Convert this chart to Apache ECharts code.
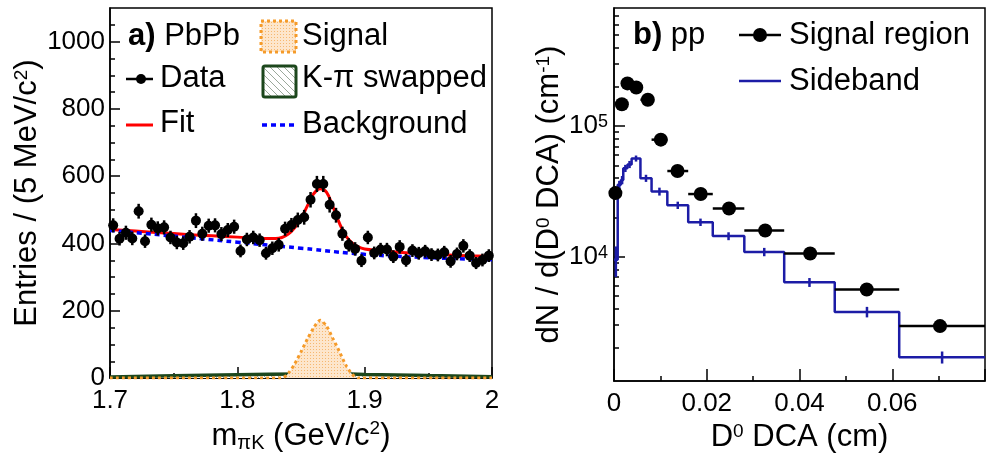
<!DOCTYPE html>
<html>
<head>
<meta charset="utf-8">
<script src="https://cdn.jsdelivr.net/npm/echarts@6/dist/echarts.min.js"></script>
<style>html,body{margin:0;padding:0;background:#fff}#chart{width:988px;height:458px}</style>
</head>
<body>
<div id="chart"></div>
<script>
// a) PbPb invariant mass, 5 MeV bins from 1.7 to 2.0 GeV/c2
const massBinStart = 1.7;
const massBinWidth = 0.005;
const massCounts = [454, 414, 432, 415, 496, 407, 456, 445, 448, 418, 403, 401, 420, 468, 429, 453, 454, 428, 440, 450,
  378, 412, 418, 410, 371, 386, 396, 444, 455, 470, 478, 530, 577, 577, 515, 484, 429, 396, 384, 349,
  418, 372, 382, 382, 361, 390, 350, 379, 371, 377, 367, 366, 374, 347, 369, 393, 364, 342, 351, 364];
const massErr = [21, 20, 21, 20, 22, 20, 21, 21, 21, 20, 20, 20, 20, 22, 21, 21, 21, 21, 21, 21,
  19, 20, 20, 20, 19, 20, 20, 21, 21, 22, 22, 23, 24, 24, 23, 22, 21, 20, 20, 19,
  20, 19, 20, 20, 19, 20, 19, 19, 19, 19, 19, 19, 19, 19, 19, 20, 19, 18, 19, 19];
// fit, background, signal and swapped curves
const fitX = [1.7, 1.72, 1.74, 1.76, 1.78, 1.8, 1.82, 1.83, 1.835, 1.84, 1.845, 1.85, 1.855, 1.86, 1.865, 1.87, 1.875, 1.88, 1.885, 1.89, 1.895, 1.9, 1.92, 1.94, 1.96, 1.98, 2.0];
const fitY = [442, 437, 432, 427, 423, 419, 415, 415, 418, 428, 447, 474, 512, 548, 563, 553, 510, 462, 424, 402, 390, 384, 376, 371, 367, 364, 362];
const bkgX = [1.7, 1.75, 1.8, 1.85, 1.9, 1.95, 2.0];
const bkgY = [439, 422, 404, 386, 368, 358, 352];
const sigX = [1.7, 1.835, 1.84, 1.845, 1.85, 1.855, 1.86, 1.865, 1.87, 1.875, 1.88, 1.885, 1.89, 1.895, 2.0];
const sigY = [0, 0, 14, 42, 78, 116, 150, 172, 155, 118, 80, 40, 12, 0, 0];
const swapX = [1.7, 1.75, 1.8, 1.85, 1.875, 1.9, 1.95, 2.0];
const swapY = [3, 7, 10, 12.5, 13, 11, 8, 4];
const massYTicks = [0, 200, 400, 600, 800, 1000];
const massYMinor = [50, 100, 150, 250, 300, 350, 450, 500, 550, 650, 700, 750, 850, 900, 950, 1050];

// b) pp D0 DCA
const dcaX = [0.0003, 0.0017, 0.0029, 0.0048, 0.0073, 0.0101, 0.0137, 0.0187, 0.0248, 0.0326, 0.0423, 0.0545, 0.0703];
const dcaLo = [0, 0.0008, 0.0025, 0.0038, 0.0057, 0.0081, 0.0115, 0.016, 0.0213, 0.0281, 0.0367, 0.0476, 0.0615];
const dcaHi = [0.0008, 0.0025, 0.0035, 0.0057, 0.0081, 0.0115, 0.016, 0.0213, 0.0281, 0.0367, 0.0476, 0.0615, 0.08];
const signalRegion = [30700, 147000, 212000, 197000, 159000, 78700, 45300, 30200, 23400, 15900, 10600, 5620, 2950];
const sbEdges = [0, 0.0008, 0.0015, 0.002, 0.0029, 0.0038, 0.0057, 0.0081, 0.0115, 0.016, 0.0213, 0.0281, 0.0367, 0.0476, 0.0615, 0.08];
const sideband = [9500, 35500, 38700, 47500, 50900, 56500, 39900, 31600, 24800, 18400, 14400, 10900, 6380, 3790, 1706];
const sidebandErr = [2500, 2600, 2800, 3000, 3200, 3000, 2500, 2200, 1600, 1200, 1000, 800, 500, 350, 180];
const dcaYTicks = [10000, 100000];
const dcaYMinor = [2000, 3000, 4000, 5000, 6000, 7000, 8000, 9000, 20000, 30000, 40000, 50000, 60000, 70000, 80000, 90000,
  200000, 300000, 400000, 500000, 600000, 700000];

const FONT = "'Liberation Sans', Arial, Helvetica, sans-serif";
const chart = echarts.init(document.getElementById('chart'));

// fill patterns (hatch for K-pi swapped, dots for signal)
function hatch() {
  const c = document.createElement('canvas');
  c.width = 7; c.height = 7;
  const g = c.getContext('2d');
  g.fillStyle = '#fff'; g.fillRect(0, 0, 7, 7);
  g.strokeStyle = '#9aa89a'; g.lineWidth = 1;
  g.beginPath(); g.moveTo(-1, -1); g.lineTo(8, 8); g.stroke();
  return { image: c, repeat: 'repeat' };
}
function dots() {
  const c = document.createElement('canvas');
  c.width = 3; c.height = 3;
  const g = c.getContext('2d');
  g.fillStyle = '#fde6cc'; g.fillRect(0, 0, 3, 3);
  g.fillStyle = '#f6b870'; g.fillRect(1, 1, 1, 1);
  return { image: c, repeat: 'repeat' };
}

function errRender(horizontal, color, width) {
  return function (params, api) {
    let p1, p2;
    if (horizontal) {
      p1 = api.coord([api.value(0), api.value(2)]);
      p2 = api.coord([api.value(1), api.value(2)]);
    } else {
      p1 = api.coord([api.value(0), api.value(1)]);
      p2 = api.coord([api.value(0), api.value(2)]);
    }
    return { type: 'line', shape: { x1: p1[0], y1: p1[1], x2: p2[0], y2: p2[1] }, style: { stroke: color, lineWidth: width } };
  };
}

const massCenters = massCounts.map((_, i) => +(massBinStart + massBinWidth * (i + 0.5)).toFixed(4));
const pair = (xs, ys) => xs.map((x, i) => [x, ys[i]]);

const black = '#000';
const tickStyle = { color: black, width: 1.5 };
const labelStyle = { fontSize: 26, color: black, fontFamily: FONT };
const nameStyle = {
  fontSize: 31, color: black, fontFamily: FONT,
  rich: {
    sup: { fontSize: 19, fontFamily: FONT, verticalAlign: 'top', padding: [0, 0, 10, 0] },
    sub: { fontSize: 20, fontFamily: FONT, verticalAlign: 'bottom', padding: [14, 0, 0, 0] }
  }
};

function txt(x, y, text, size) {
  return {
    type: 'text', z: 100,
    style: {
      x: x, y: y, text: text, fontSize: size, fontFamily: FONT, fill: black, verticalAlign: 'middle',
      rich: { b: { fontWeight: 'bold', fontSize: size, fontFamily: FONT } }
    }
  };
}
function seg(x1, y1, x2, y2, color, w, dash) {
  return { type: 'line', z: 100, shape: { x1, y1, x2, y2 }, style: { stroke: color, lineWidth: w, lineDash: dash || null } };
}

const option = {
  animation: false,
  grid: [
    { left: 110, top: 8, width: 382, height: 375, show: true, borderColor: black, borderWidth: 1.5 },
    { left: 614, top: 8, width: 387, height: 377, show: true, borderColor: black, borderWidth: 1.5 }
  ],
  xAxis: [
    {
      gridIndex: 0, type: 'value', min: 1.7, max: 2.0, interval: 0.1,
      axisLine: { lineStyle: tickStyle },
      axisTick: { inside: true, length: 11, lineStyle: tickStyle },
      minorTick: { show: true, splitNumber: 2, length: 5, lineStyle: tickStyle },
      splitLine: { show: false },
      axisLabel: Object.assign({ margin: 10 }, labelStyle),
      name: 'm{sub|πK} (GeV/c{sup|2})', nameLocation: 'middle', nameGap: 36, nameTextStyle: nameStyle
    },
    {
      gridIndex: 1, type: 'value', min: 0, max: 0.08, interval: 0.02,
      axisLine: { lineStyle: tickStyle },
      axisTick: { inside: true, length: 12, lineStyle: tickStyle },
      minorTick: { show: true, splitNumber: 2, length: 5, lineStyle: tickStyle },
      splitLine: { show: false },
      axisLabel: Object.assign({ margin: 10, formatter: v => (v > 0.07 ? '' : String(v)) }, labelStyle),
      name: 'D{sup|0} DCA (cm)', nameLocation: 'middle', nameGap: 36, nameTextStyle: nameStyle
    }
  ],
  yAxis: [
    {
      gridIndex: 0, type: 'value', position: 'left', min: 0, max: 1100,
      axisLine: { lineStyle: tickStyle },
      axisTick: { inside: true, length: 10, lineStyle: tickStyle, customValues: massYTicks },
      splitLine: { show: false },
      axisLabel: Object.assign({ margin: 5, customValues: massYTicks, formatter: v => String(v) }, labelStyle),
      name: 'Entries / (5 MeV/c{sup|2})', nameLocation: 'middle', nameGap: 59, nameTextStyle: nameStyle
    },
    {
      gridIndex: 0, type: 'value', position: 'left', min: 0, max: 1100,
      axisLine: { show: false },
      axisTick: { inside: true, length: 5, lineStyle: tickStyle, customValues: massYMinor },
      splitLine: { show: false }, axisLabel: { show: false }
    },
    {
      gridIndex: 1, type: 'log', logBase: 10, position: 'left', min: 1120, max: 800000,
      axisLine: { lineStyle: tickStyle },
      axisTick: { inside: true, length: 11, lineStyle: tickStyle, customValues: dcaYTicks },
      splitLine: { show: false },
      axisLabel: Object.assign({
        margin: 6, customValues: dcaYTicks,
        formatter: v => '10{sup|' + Math.round(Math.log10(v)) + '}',
        rich: { sup: { fontSize: 18, fontFamily: FONT, verticalAlign: 'top', padding: [0, 0, 8, 0] } }
      }, labelStyle),
      name: 'dN / d(D{sup|0} DCA) (cm{sup|-1})', nameLocation: 'middle', nameGap: 48, nameTextStyle: nameStyle
    },
    {
      gridIndex: 1, type: 'log', logBase: 10, position: 'left', min: 1120, max: 800000,
      axisLine: { show: false },
      axisTick: { inside: true, length: 5, lineStyle: tickStyle, customValues: dcaYMinor },
      splitLine: { show: false }, axisLabel: { show: false }
    }
  ],
  series: [
    {
      name: 'K-π swapped', type: 'line', xAxisIndex: 0, yAxisIndex: 0, smooth: true, symbol: 'none',
      data: pair(swapX, swapY), lineStyle: { color: '#1c471c', width: 3.5 },
      areaStyle: { color: hatch(), opacity: 1 }, z: 2
    },
    {
      name: 'Signal', type: 'line', xAxisIndex: 0, yAxisIndex: 0, smooth: 0.25, symbol: 'none',
      data: pair(sigX, sigY), lineStyle: { color: '#f59b2a', width: 3, type: [3, 3] },
      areaStyle: { color: dots(), opacity: 1 }, z: 3
    },
    {
      name: 'Fit', type: 'line', xAxisIndex: 0, yAxisIndex: 0, smooth: 0.4, symbol: 'none',
      data: pair(fitX, fitY), lineStyle: { color: '#ff0000', width: 3 }, z: 4
    },
    {
      name: 'Background', type: 'line', xAxisIndex: 0, yAxisIndex: 0, smooth: true, symbol: 'none',
      data: pair(bkgX, bkgY), lineStyle: { color: '#0000ff', width: 3.5, type: [5, 4] }, z: 5
    },
    {
      name: 'Data err', type: 'custom', xAxisIndex: 0, yAxisIndex: 0, renderItem: errRender(false, black, 2.5),
      data: massCenters.map((x, i) => [x, massCounts[i] - massErr[i], massCounts[i] + massErr[i]]),
      encode: { x: 0, y: [1, 2] }, z: 6
    },
    {
      name: 'Data', type: 'scatter', xAxisIndex: 0, yAxisIndex: 0, symbolSize: 10,
      data: pair(massCenters, massCounts), itemStyle: { color: black, opacity: 1 }, z: 7
    },
    {
      name: 'Sideband', type: 'line', xAxisIndex: 1, yAxisIndex: 2, step: 'end', symbol: 'none',
      data: sbEdges.map((x, i) => [x, sideband[Math.min(i, sideband.length - 1)]]),
      lineStyle: { color: '#1c1ca6', width: 2.5 }, z: 4
    },
    {
      name: 'Sideband err', type: 'custom', xAxisIndex: 1, yAxisIndex: 2, renderItem: errRender(false, '#1c1ca6', 2.5),
      data: sideband.map((v, i) => [(sbEdges[i] + sbEdges[i + 1]) / 2, v - sidebandErr[i], v + sidebandErr[i]]),
      encode: { x: 0, y: [1, 2] }, z: 5
    },
    {
      name: 'Signal region err', type: 'custom', xAxisIndex: 1, yAxisIndex: 2, renderItem: errRender(true, black, 2.5),
      data: dcaX.map((x, i) => [dcaLo[i], dcaHi[i], signalRegion[i]]),
      encode: { x: [0, 1], y: 2 }, z: 6
    },
    {
      name: 'Signal region', type: 'scatter', xAxisIndex: 1, yAxisIndex: 2, symbolSize: 14,
      data: pair(dcaX, signalRegion), itemStyle: { color: black, opacity: 1 }, z: 7
    }
  ],
  graphic: [
    // legend a)
    txt(128, 36, '{b|a)} PbPb', 31),
    { type: 'rect', z: 100, shape: { x: 261, y: 21, width: 35, height: 31 }, style: { fill: dots(), stroke: '#f59b2a', lineWidth: 3, lineDash: [3, 3] } },
    txt(302, 36, 'Signal', 31),
    seg(126, 79, 153, 79, black, 2.5),
    { type: 'circle', z: 100, shape: { cx: 141, cy: 79, r: 5 }, style: { fill: black } },
    txt(160, 78, 'Data', 31),
    { type: 'rect', z: 100, shape: { x: 263, y: 66, width: 33, height: 31, r: 2 }, style: { fill: hatch(), stroke: '#1c471c', lineWidth: 3 } },
    txt(302, 78, 'K-π swapped', 31),
    seg(126, 125, 153, 125, '#ff0000', 3),
    txt(160, 123, 'Fit', 31),
    seg(262, 125, 296, 125, '#0000ff', 3.5, [5, 4]),
    txt(302, 124, 'Background', 31),
    // legend b)
    txt(633, 35, '{b|b)} pp', 31),
    seg(739, 35, 781, 35, black, 2.5),
    { type: 'circle', z: 100, shape: { cx: 760, cy: 35, r: 7 }, style: { fill: black } },
    txt(789, 35, 'Signal region', 31),
    seg(739, 81, 781, 81, '#1c1ca6', 2.5),
    txt(789, 81, 'Sideband', 31)
  ]
};
chart.setOption(option);
</script>
</body>
</html>
